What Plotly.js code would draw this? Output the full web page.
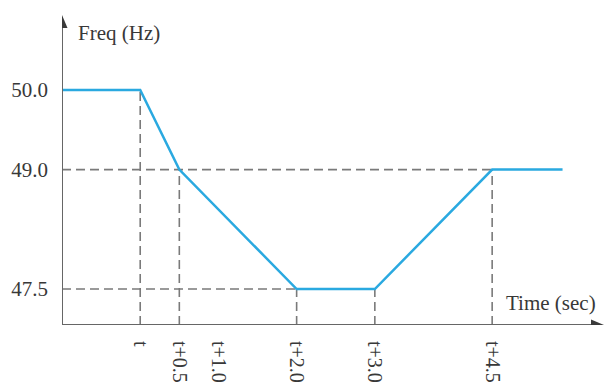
<!DOCTYPE html>
<html>
<head>
<meta charset="utf-8">
<script src="https://cdn.plot.ly/plotly-3.0.1.min.js"></script>
<style>
  html, body { margin: 0; padding: 0; background: #ffffff; }
  #chart { width: 606px; height: 383px; }
</style>
</head>
<body>
<div id="chart"></div>
<script>
// Frequency response after a disturbance at time t
const timeOffsets = [-1.0, 0, 0.5, 2.0, 3.0, 4.5, 5.4];
const freqValues  = [50.0, 50.0, 49.0, 47.5, 47.5, 49.0, 49.0];
const tickValues  = [0, 0.5, 1.0, 2.0, 3.0, 4.5];
const tickLabels  = ['t', 't+0.5', 't+1.0', 't+2.0', 't+3.0', 't+4.5'];
const freqTicks   = [47.5, 49.0, 50.0];
const freqLabels  = ['47.5', '49.0', '50.0'];

// Points of the curve that get dashed guide lines down to the axes
const guideTimes = [0, 0.5, 2.0, 3.0, 4.5];
const guideFreqs = [50.0, 49.0, 47.5, 47.5, 49.0];

const xRange = [-1.0, 5.93];
const yRange = [47.048, 50.942];

const axisColor = '#666666';
const guideColor = '#7a7a7a';
const lineColor = '#2aa9e0';
const font = '"Liberation Serif", "Times New Roman", serif';
const textColor = '#383838';

const shapes = [];

// vertical guides from each breakpoint down to the time axis
guideTimes.forEach((tv, i) => {
  shapes.push({
    type: 'line', xref: 'x', yref: 'y',
    x0: tv, x1: tv, y0: yRange[0], y1: guideFreqs[i],
    line: { color: guideColor, width: 1.6, dash: '9px,5px' },
    layer: 'below'
  });
});

// horizontal guides at 49.0 and 47.5 from the frequency axis
shapes.push({
  type: 'line', xref: 'x', yref: 'y',
  x0: xRange[0], x1: guideTimes[4], y0: freqValues[2], y1: freqValues[2],
  line: { color: guideColor, width: 1.6, dash: '9px,5px' }, layer: 'below'
});
shapes.push({
  type: 'line', xref: 'x', yref: 'y',
  x0: xRange[0], x1: guideTimes[2], y0: freqValues[3], y1: freqValues[3],
  line: { color: guideColor, width: 1.6, dash: '9px,5px' }, layer: 'below'
});

// axis lines with filled arrow heads
const pxX = (xRange[1] - xRange[0]) / 542;  // data units per pixel along x
const pxY = (yRange[1] - yRange[0]) / 310;  // data units per pixel along y
const headLen = 13, headHalf = 5.5;

shapes.push({
  type: 'line', xref: 'x', yref: 'y',
  x0: xRange[0], x1: xRange[1] - headLen * pxX, y0: yRange[0], y1: yRange[0],
  line: { color: axisColor, width: 2 }
});
shapes.push({
  type: 'line', xref: 'x', yref: 'y',
  x0: xRange[0], x1: xRange[0], y0: yRange[0], y1: yRange[1] - headLen * pxY,
  line: { color: axisColor, width: 2 }
});
shapes.push({
  type: 'path', xref: 'x', yref: 'y',
  path: `M ${xRange[1]} ${yRange[0]} L ${xRange[1] - headLen * pxX} ${yRange[0] + headHalf * pxY} L ${xRange[1] - headLen * pxX} ${yRange[0] - headHalf * pxY} Z`,
  fillcolor: '#3a3a3a', line: { width: 0 }
});
shapes.push({
  type: 'path', xref: 'x', yref: 'y',
  path: `M ${xRange[0]} ${yRange[1]} L ${xRange[0] - headHalf * pxX} ${yRange[1] - headLen * pxY} L ${xRange[0] + headHalf * pxX} ${yRange[1] - headLen * pxY} Z`,
  fillcolor: '#3a3a3a', line: { width: 0 }
});

const trace = {
  x: timeOffsets,
  y: freqValues,
  type: 'scatter',
  mode: 'lines',
  line: { color: lineColor, width: 2.5 },
  hoverinfo: 'skip',
  cliponaxis: false
};

const layout = {
  width: 606,
  height: 383,
  margin: { l: 62, r: 2, t: 15, b: 58 },
  paper_bgcolor: '#ffffff',
  plot_bgcolor: '#ffffff',
  showlegend: false,
  font: { family: font, size: 21, color: textColor },
  xaxis: {
    range: xRange,
    showgrid: false,
    zeroline: false,
    showline: false,
    tickmode: 'array',
    tickvals: tickValues,
    ticktext: tickLabels,
    tickangle: 90,
    ticks: '',
    ticklabelstandoff: 15,
    tickfont: { family: font, size: 20, color: textColor }
  },
  yaxis: {
    range: yRange,
    showgrid: false,
    zeroline: false,
    showline: false,
    tickmode: 'array',
    tickvals: freqTicks,
    ticktext: freqLabels,
    ticks: '',
    ticklabelstandoff: 13,
    tickfont: { family: font, size: 21, color: textColor }
  },
  shapes: shapes,
  annotations: [
    {
      text: 'Freq (Hz)', xref: 'paper', yref: 'paper',
      x: 0, y: 1, xshift: 14, yshift: -4,
      xanchor: 'left', yanchor: 'top', showarrow: false,
      font: { family: font, size: 21, color: textColor }
    },
    {
      text: 'Time (sec)', xref: 'paper', yref: 'paper',
      x: 1, y: 0, xshift: -6, yshift: 8,
      xanchor: 'right', yanchor: 'bottom', showarrow: false,
      font: { family: font, size: 21, color: textColor }
    }
  ]
};

Plotly.newPlot('chart', [trace], layout, { staticPlot: true, displayModeBar: false });
</script>
</body>
</html>
